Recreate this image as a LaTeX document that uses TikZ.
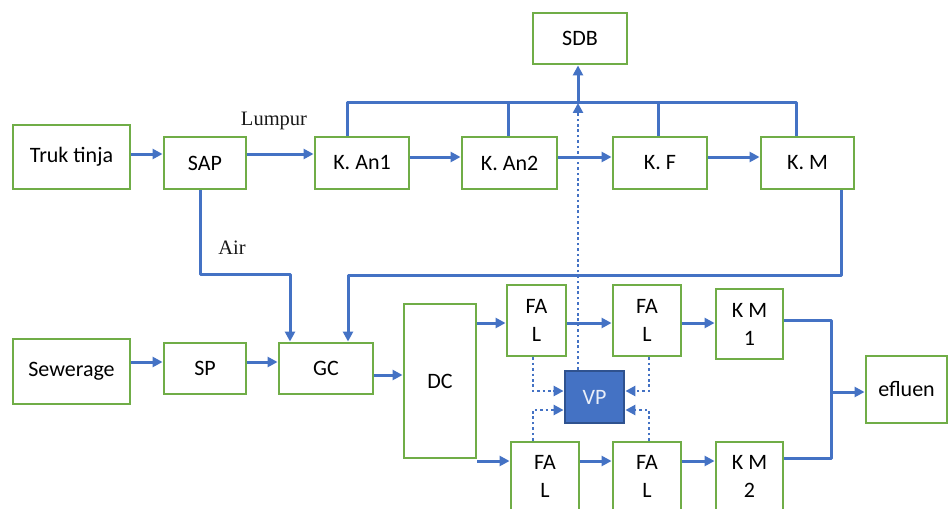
\documentclass[tikz,border=0pt]{standalone}
\usepackage{fontspec}
\setmainfont{Carlito}
\newfontfamily\seriffont{Liberation Serif}
\usetikzlibrary{arrows.meta}
\definecolor{lnblue}{HTML}{4472C4}
\definecolor{bxgreen}{HTML}{70AD47}
\definecolor{vpborder}{HTML}{2F528F}
\tikzset{
  bx/.style={draw=bxgreen, line width=2.9pt, fill=white, inner sep=0pt, align=center,
    font=\fontsize{22}{28}\selectfont},
  ln/.style={draw=lnblue, line width=3pt},
  arr/.style={ln, -{Triangle[length=10pt,width=10pt]}},
  dt/.style={draw=lnblue, line width=2.8pt, dash pattern=on 2.6pt off 2.8pt},
  dtarr/.style={dt, -{Triangle[length=10pt,width=10pt]}},
  lbl/.style={font=\seriffont\fontsize{20.5}{24}\selectfont, text=black!90}
}
\begin{document}
\begin{tikzpicture}[x=1pt,y=-1pt]
\useasboundingbox (0,0) rectangle (949,508);
\clip (0,0) rectangle (949,508);
% nodes
\node[bx, minimum width=117pt, minimum height=64pt] (truk) at (71.5,157) {Truk tinja};
\node[bx, minimum width=82pt, minimum height=52pt] (sap) at (205,163) {SAP};
\node[bx, minimum width=94pt, minimum height=52pt] (kan1) at (362,163) {K. An1};
\node[bx, minimum width=95pt, minimum height=52pt] (kan2) at (509.5,163) {K. An2};
\node[bx, minimum width=94pt, minimum height=52pt] (kf) at (660,163) {K. F};
\node[bx, minimum width=93pt, minimum height=52pt] (km) at (807.5,163) {K. M};
\node[bx, minimum width=94pt, minimum height=51pt] (sdb) at (580,38.5) {SDB};
\node[bx, minimum width=117pt, minimum height=65pt] (sew) at (71.5,371.5) {Sewerage};
\node[bx, minimum width=82pt, minimum height=51pt] (sp) at (205,368.5) {SP};
\node[bx, minimum width=94pt, minimum height=51pt] (gc) at (326,368.5) {GC};
\node[bx, minimum width=72pt, minimum height=154pt] (dc) at (440,381) {DC};
\node[bx, minimum width=59pt, minimum height=71pt] (fal1) at (536.5,320.5) {FA\\L};
\node[bx, minimum width=68pt, minimum height=71pt] (fal2) at (647,320.5) {FA\\L};
\node[bx, minimum width=67pt, minimum height=70pt] (km1) at (749.5,324) {K M\\1};
\node[bx, minimum width=81pt, minimum height=67pt] (efl) at (906.5,389.5) {efluen};
\node[bx, minimum width=68pt, minimum height=69pt] (fal3) at (545,476.5) {FA\\L};
\node[bx, minimum width=68pt, minimum height=69pt] (fal4) at (647,476.5) {FA\\L};
\node[bx, minimum width=67pt, minimum height=69pt] (km2) at (749.5,476.5) {K M\\2};
\node[draw=vpborder, line width=2.8pt, fill=lnblue, text=white!88!lnblue,
  minimum width=59pt, minimum height=52pt, inner sep=0pt,
  font=\fontsize{22}{24}\selectfont] (vp) at (594.5,397) {VP};
% labels
\node[lbl] (lumpur) at (274,121) {Lumpur};
\node[lbl] (air) at (232,248) {Air};
% lane coordinates
\coordinate (r1) at (0,154);
\coordinate (r2) at (0,157);
\coordinate (bus) at (0,103);
\coordinate (xsdb) at (578,0);
\coordinate (airy) at (0,274);
\coordinate (airx) at (290,0);
\coordinate (rety) at (0,275);
\coordinate (retx) at (348,0);
\coordinate (kmx) at (841,0);
\coordinate (r3) at (0,362);
\coordinate (r4) at (0,375);
\coordinate (r5) at (0,323);
\coordinate (r6) at (0,461);
\coordinate (o1) at (0,320);
\coordinate (o2) at (0,458);
\coordinate (ox) at (831,0);
\coordinate (oe) at (0,392);
\coordinate (d1) at (0,391);
\coordinate (d2) at (0,410);
\coordinate (dxl) at (533,0);
\coordinate (dxr) at (649,0);
% top row
\draw[arr] (truk.east |- r1) -- (sap.west |- r1);
\draw[arr] (sap.east |- r1) -- (kan1.west |- r1);
\draw[arr] (kan1.east |- r2) -- (kan2.west |- r2);
\draw[arr] (kan2.east |- r2) -- (kf.west |- r2);
\draw[arr] (kf.east |- r2) -- (km.west |- r2);
% bus to SDB
\draw[ln, line join=round] (kan1.north -| 347,0) -- (347,0 |- bus) -- (796,0 |- bus) -- (km.north -| 796,0);
\draw[ln] (kan2.north -| 508,0) -- (508,0 |- bus);
\draw[ln] (kf.north -| 658,0) -- (658,0 |- bus);
\draw[arr] (xsdb |- bus) -- (sdb.south -| xsdb);
% Air line
\draw[arr, line join=round] (sap.south -| 200,0) -- (200,0 |- airy) -- (airx |- airy) -- (gc.north -| airx);
% return from K. M
\draw[arr, line join=round] (km.south -| kmx) -- (kmx |- rety) -- (retx |- rety) -- (gc.north -| retx);
% bottom-left row
\draw[arr] (sew.east |- r3) -- (sp.west |- r3);
\draw[arr] (sp.east |- r3) -- (gc.west |- r3);
\draw[arr] (gc.east |- r4) -- (dc.west |- r4);
% upper line
\draw[arr] (dc.east |- r5) -- (fal1.west |- r5);
\draw[arr] (fal1.east |- r5) -- (fal2.west |- r5);
\draw[arr] (fal2.east |- r5) -- (km1.west |- r5);
% lower line
\draw[arr] (dc.east |- r6) -- (fal3.west |- r6);
\draw[arr] (fal3.east |- r6) -- (fal4.west |- r6);
\draw[arr] (fal4.east |- r6) -- (km2.west |- r6);
% to efluen
\draw[ln, line join=round] (km1.east |- o1) -- (ox |- o1) -- (ox |- o2) -- (km2.east |- o2);
\draw[arr] (ox |- oe) -- (efl.west |- oe);
% dotted lines to VP
\draw[dtarr] (fal1.south -| dxl) -- (dxl |- d1) -- (vp.west |- d1);
\draw[dtarr] (fal2.south -| dxr) -- (dxr |- d1) -- (vp.east |- d1);
\draw[dtarr] (fal3.north -| dxl) -- (dxl |- d2) -- (vp.west |- d2);
\draw[dtarr] (fal4.north -| dxr) -- (dxr |- d2) -- (vp.east |- d2);
\draw[dtarr] (vp.north -| xsdb) -- (xsdb |- bus);
\end{tikzpicture}
\end{document}
